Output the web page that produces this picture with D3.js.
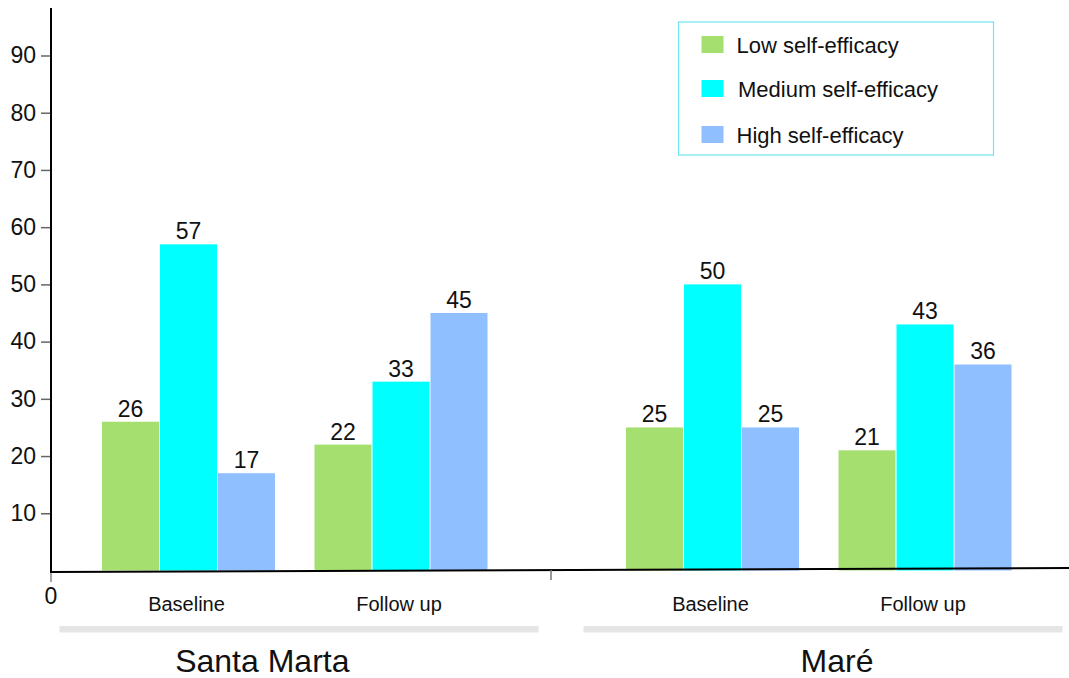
<!DOCTYPE html>
<html>
<head>
<meta charset="utf-8">
<script src="https://cdn.jsdelivr.net/npm/d3@7/dist/d3.min.js"></script>
<style>
  html, body { margin: 0; padding: 0; background: #fff; }
  svg { display: block; font-family: "Liberation Sans", Arial, Helvetica, sans-serif; }
</style>
</head>
<body>
<svg id="chart" width="1069" height="678"></svg>
<script>
// Percentage of participants by self-efficacy level, per community and time point
const regions = ["Santa Marta", "Maré"];
const timepoints = ["Baseline", "Follow up"];
const series = ["Low self-efficacy", "Medium self-efficacy", "High self-efficacy"];
const lowValues    = [26, 22, 25, 21];   // SM Baseline, SM Follow up, Maré Baseline, Maré Follow up
const mediumValues = [57, 33, 50, 43];
const highValues   = [17, 45, 25, 36];
const yTicks = [10, 20, 30, 40, 50, 60, 70, 80, 90];
const colors = ["#a5df70", "#00ffff", "#8fbfff"];

const valuesBySeries = [lowValues, mediumValues, highValues];
const rows = [];
regions.forEach((r, ri) => {
  timepoints.forEach((t, ti) => {
    const idx = ri * timepoints.length + ti;
    series.forEach((s, si) => {
      rows.push({ region: r, time: t, series: s, value: valuesBySeries[si][idx], color: colors[si] });
    });
  });
});

const svg = d3.select("#chart");

// Scales
const y = d3.scaleLinear().domain([0, 98.3]).range([570.5, 8]);

const x0 = d3.scaleBand().domain(regions).range([59.5, 1062.5]).paddingInner(0.0859);
const x1 = d3.scaleBand().domain(timepoints).range([0, x0.bandwidth()])
  .paddingInner(0.186).paddingOuter(0.22).align(0.4545);
const x2 = d3.scaleBand().domain(series).range([0, x1.bandwidth()]).paddingInner(0.01724);

const xPos = d => x0(d.region) + x1(d.time) + x2(d.series);

// Bars
svg.append("g").selectAll("rect").data(rows).join("rect")
  .attr("x", d => xPos(d))
  .attr("width", x2.bandwidth())
  .attr("y", d => y(d.value))
  .attr("height", d => y(0) - y(d.value))
  .attr("fill", d => d.color);

// Value labels
svg.append("g").selectAll("text").data(rows).join("text")
  .attr("x", d => xPos(d) + x2.bandwidth() / 2)
  .attr("y", d => y(d.value) - 5)
  .attr("text-anchor", "middle")
  .attr("font-size", 23)
  .attr("fill", "#111")
  .text(d => d.value);

// Y axis
const yAxis = d3.axisLeft(y).tickValues(yTicks).tickSize(10).tickPadding(5).tickFormat(d3.format("d"));
const yg = svg.append("g").attr("transform", "translate(51,0)").call(yAxis);
yg.select(".domain").remove();
yg.selectAll(".tick line").attr("stroke", "#666").attr("stroke-width", 1.5);
yg.selectAll(".tick text").attr("font-size", 23).attr("fill", "#111")
  .attr("font-family", "Liberation Sans, Arial, sans-serif");
svg.append("line").attr("x1", 51).attr("x2", 51).attr("y1", 8).attr("y2", 573)
  .attr("stroke", "#000").attr("stroke-width", 2);

// X axis baseline
svg.append("line").attr("x1", 50).attr("x2", 1069).attr("y1", 572).attr("y2", 568)
  .attr("stroke", "#000").attr("stroke-width", 2);

// Zero tick and label
svg.append("line").attr("x1", 51).attr("x2", 51).attr("y1", 573).attr("y2", 582)
  .attr("stroke", "#888").attr("stroke-width", 1.5);
svg.append("text").attr("x", 51).attr("y", y(0) + 33).attr("text-anchor", "middle")
  .attr("font-size", 23).attr("fill", "#111").text("0");

// Separator tick between the two communities
const sepX = (x0(regions[0]) + x0.bandwidth() + x0(regions[1])) / 2 - 10;
svg.append("line").attr("x1", sepX).attr("x2", sepX).attr("y1", 570).attr("y2", 580)
  .attr("stroke", "#777").attr("stroke-width", 1.5);

// Time point labels
const tp = [];
regions.forEach(r => timepoints.forEach(t => tp.push({ region: r, time: t })));
svg.append("g").selectAll("text").data(tp).join("text")
  .attr("x", d => x0(d.region) + x1(d.time) + x1.bandwidth() / 2 - 2)
  .attr("y", 611)
  .attr("text-anchor", "middle")
  .attr("font-size", 20)
  .attr("fill", "#111")
  .text(d => d.time);

// Grey brackets under each community
svg.append("g").selectAll("rect").data(regions).join("rect")
  .attr("x", d => x0(d)).attr("width", x0.bandwidth())
  .attr("y", 626).attr("height", 6.5)
  .attr("fill", "#e5e5e5");

// Community titles
svg.append("g").selectAll("text").data(regions).join("text")
  .attr("x", d => x0(d) + x0.bandwidth() - 189)
  .attr("y", 672)
  .attr("text-anchor", "end")
  .attr("font-size", 32)
  .attr("fill", "#111")
  .text(d => d);

// Legend
const legend = svg.append("g").attr("transform", "translate(678.5,22)");
legend.append("rect").attr("width", 315).attr("height", 133)
  .attr("fill", "#fff").attr("stroke", "#6ee5ef").attr("stroke-width", 1.2);
const li = legend.selectAll("g").data(series).join("g")
  .attr("transform", (d, i) => `translate(0,${[14, 58, 104][i]})`);
li.append("rect").attr("x", 23).attr("y", 0).attr("width", 22).attr("height", 17)
  .attr("fill", (d, i) => colors[i]);
li.append("text").attr("x", (d, i) => i === 1 ? 59.5 : 58).attr("y", 16.5)
  .attr("font-size", 22).attr("fill", "#111").text(d => d);
</script>
</body>
</html>
